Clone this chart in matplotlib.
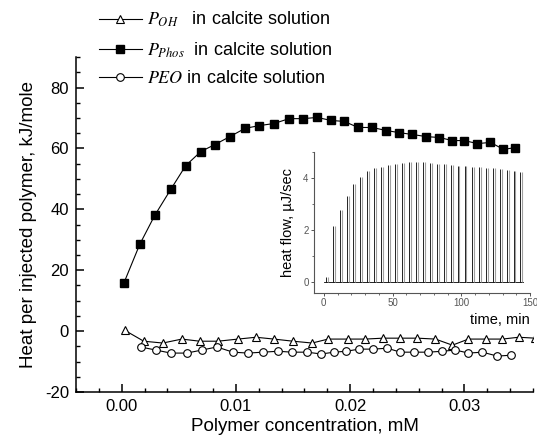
import matplotlib
matplotlib.use("Agg")
import matplotlib.pyplot as plt
from matplotlib.ticker import MultipleLocator

plt.rcParams['font.family'] = ['Liberation Sans', 'DejaVu Sans']
plt.rcParams['mathtext.fontset'] = 'stix'
plt.rcParams['axes.unicode_minus'] = False

# ---- data ----
phos_x = [0.00018, 0.00158, 0.00289, 0.0043, 0.00561, 0.00693, 0.00816, 0.00947, 0.01079,
          0.01202, 0.01333, 0.01465, 0.01588, 0.01711, 0.01833, 0.01947, 0.02070, 0.02193,
          0.02316, 0.02430, 0.02544, 0.02667, 0.02781, 0.02895, 0.03000, 0.03114, 0.03228,
          0.03342, 0.03447]
phos_y = [15.7, 28.5, 38.0, 46.6, 54.4, 59.0, 61.3, 63.9, 66.6, 67.5, 68.2, 69.8, 69.8, 70.2,
          69.2, 68.9, 66.9, 66.9, 65.9, 65.2, 64.6, 63.9, 63.6, 62.6, 62.6, 61.6, 62.0, 59.7, 60.3]

oh_x = [0.00026, 0.00193, 0.0036, 0.00526, 0.00684, 0.00842, 0.01018, 0.01175, 0.01333,
        0.0150, 0.01667, 0.01807, 0.01982, 0.02132, 0.02289, 0.02439, 0.02588, 0.02746,
        0.02895, 0.03035, 0.03193, 0.03333, 0.03474, 0.0362]
oh_y = [0.3, -3.3, -3.9, -2.6, -3.3, -3.3, -2.6, -2.0, -2.6, -3.3, -3.9, -2.6, -2.6, -2.6,
        -2.3, -2.3, -2.3, -2.6, -4.6, -2.6, -2.6, -2.6, -2.0, -2.3]

peo_x = [0.00167, 0.00298, 0.0043, 0.0057, 0.00702, 0.00833, 0.00974, 0.01105, 0.01237,
         0.01368, 0.01491, 0.01623, 0.01746, 0.0186, 0.01965, 0.02079, 0.02202, 0.02325,
         0.02439, 0.02561, 0.02684, 0.02807, 0.02921, 0.03035, 0.03158, 0.03289, 0.03404]
peo_y = [-5.2, -6.2, -7.2, -7.2, -6.2, -5.2, -6.9, -7.2, -6.9, -6.6, -6.9, -6.9, -7.5, -6.9,
         -6.6, -5.9, -5.9, -5.6, -6.9, -6.9, -6.9, -6.6, -6.2, -7.2, -6.9, -8.2, -7.9]

# inset: injection peaks of the heat-flow trace
peak_t = [1.5, 6.6, 11.5, 16.6, 21.5, 26.4, 31.6, 36.6, 41.7, 46.8, 52.0, 57.0, 62.0, 67.2,
          72.3, 77.2, 82.2, 87.2, 92.3, 97.3, 102.4, 107.5, 112.6, 117.7, 122.8, 127.9,
          133.0, 138.0, 143.0]
peak_h = [0.22, 2.17, 2.78, 3.30, 3.77, 4.04, 4.27, 4.38, 4.42, 4.50, 4.53, 4.57, 4.60, 4.60,
          4.60, 4.57, 4.55, 4.52, 4.50, 4.48, 4.46, 4.44, 4.42, 4.40, 4.38, 4.35, 4.32,
          4.28, 4.24]
base_t = [0, 145]
base_h = [0.0, 0.0]

labels = [r"$P_{OH}$" + "   in calcite solution",
          r"$P_{Phos}$" + "  in calcite solution",
          r"$PEO$" + " in calcite solution"]

fig = plt.figure(figsize=(5.37, 4.43), dpi=100)
ax = fig.add_axes([0.1415, 0.115, 0.851, 0.756])

l1, = ax.plot(oh_x, oh_y, '-', color='black', lw=0.8, marker='^', ms=6,
              mfc='white', mec='black', mew=0.8)
l2, = ax.plot(phos_x, phos_y, '-', color='black', lw=0.8, marker='s', ms=5.5,
              mfc='black', mec='black')
l3, = ax.plot(peo_x, peo_y, '-', color='black', lw=0.8, marker='o', ms=5.5,
              mfc='white', mec='black', mew=0.8)

ax.set_xlim(-0.004, 0.036)
ax.set_ylim(-20, 90)
ax.xaxis.set_major_locator(MultipleLocator(0.01))
ax.xaxis.set_minor_locator(MultipleLocator(0.002))
ax.yaxis.set_major_locator(MultipleLocator(20))
ax.yaxis.set_minor_locator(MultipleLocator(5))
ax.xaxis.set_major_formatter(matplotlib.ticker.FormatStrFormatter('%.2f'))
for s in ['top', 'right']:
    ax.spines[s].set_visible(False)
for s in ['left', 'bottom']:
    ax.spines[s].set_linewidth(1.1)
ax.tick_params(which='major', direction='in', length=6, width=1.1, labelsize=12, pad=5)
ax.tick_params(which='minor', direction='in', length=3, width=1.0)
ax.set_xlabel("Polymer concentration, mM", fontsize=13.5, labelpad=3)
ax.set_ylabel("Heat per injected polymer, kJ/mole", fontsize=13.5, labelpad=6)

fig.legend([l1, l2, l3], labels, loc='upper left', bbox_to_anchor=(0.165, 1.0),
           frameon=False, fontsize=13, handlelength=2.4, handletextpad=0.3,
           labelspacing=0.6, borderaxespad=0.15)

# ---- inset ----
ins = fig.add_axes([0.585, 0.339, 0.402, 0.318])
ins.plot(base_t, base_h, color='black', lw=0.6)
ins.vlines([t + 1.4 for t in peak_t], 0, peak_h, color='#a0a0a0', lw=0.8)
ins.vlines(peak_t, 0, peak_h, color='black', lw=0.6)
ins.set_xlim(-7, 150)
ins.set_ylim(-0.4, 5.0)
ins.xaxis.set_major_locator(MultipleLocator(50))
ins.xaxis.set_minor_locator(MultipleLocator(10))
ins.yaxis.set_major_locator(MultipleLocator(2))
ins.yaxis.set_minor_locator(MultipleLocator(1))
for s in ['top', 'right']:
    ins.spines[s].set_visible(False)
for s in ['left', 'bottom']:
    ins.spines[s].set_color('#555555')
    ins.spines[s].set_linewidth(0.8)
ins.tick_params(which='major', direction='out', length=2.5, width=0.7, colors='#555555',
                labelsize=7, pad=1.5)
ins.tick_params(which='minor', direction='out', length=1.5, width=0.6, colors='#555555')
ins.patch.set_alpha(0)
ins.set_ylabel("heat flow, \u00b5J/sec", fontsize=10.5, labelpad=6)
ins.set_xlabel("time, min", fontsize=10.5, loc='right', labelpad=3)

fig.savefig("out.png", dpi=100)
